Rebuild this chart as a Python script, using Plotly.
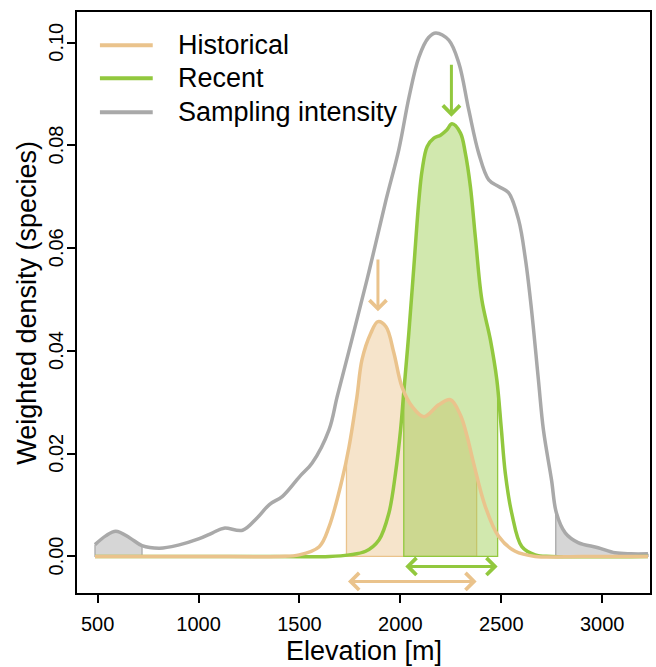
import numpy as np
import plotly.graph_objects as go

# ---------------- data ----------------
elev_samp = [487, 540, 590, 660, 720, 808, 900, 1000, 1070, 1126, 1218, 1290, 1351, 1416,
             1500, 1563, 1647, 1687, 1761, 1845, 1929, 1993, 2043, 2092, 2140, 2176, 2240,
             2290, 2339, 2388, 2438, 2487, 2536, 2586, 2620, 2650, 2684, 2709, 2749, 2773,
             2817, 2881, 2980, 3064, 3143, 3227]
dens_samp = [0.0023, 0.0040, 0.0049, 0.0036, 0.0021, 0.0016, 0.0022, 0.0034, 0.0046, 0.0055,
             0.0051, 0.0075, 0.0101, 0.0117, 0.0155, 0.0182, 0.0247, 0.0311, 0.0424, 0.0555,
             0.0694, 0.0793, 0.0894, 0.0972, 0.1010, 0.1019, 0.1005, 0.0960, 0.0869, 0.0785,
             0.0733, 0.0720, 0.0708, 0.0655, 0.0578, 0.0480, 0.0344, 0.0246, 0.0149, 0.0085,
             0.0046, 0.0027, 0.0017, 0.0007, 0.0005, 0.0005]

elev_hist = [487, 1000, 1400, 1499, 1598, 1647, 1711, 1746, 1785, 1810, 1854, 1889, 1929,
             1968, 2008, 2058, 2117, 2190, 2248, 2298, 2330, 2362, 2421, 2487, 2569, 2668,
             2900, 3227]
dens_hist = [0.0, 0.0, 0.0, 0.0003, 0.0019, 0.0058, 0.0149, 0.0214, 0.0311, 0.0383, 0.0435,
             0.0457, 0.0447, 0.0396, 0.0330, 0.0292, 0.0272, 0.0295, 0.0305, 0.0275, 0.0235,
             0.0183, 0.0097, 0.0039, 0.0010, 0.0, 0.0, 0.0]

elev_rec = [487, 1200, 1650, 1746, 1828, 1894, 1943, 1976, 2001, 2017, 2042, 2067, 2092,
            2108, 2133, 2166, 2199, 2230, 2256, 2298, 2322, 2347, 2372, 2404, 2446, 2478,
            2500, 2520, 2552, 2602, 2668, 2750, 3227]
dens_rec = [0.0, 0.0, 0.0, 0.0003, 0.0010, 0.0032, 0.0084, 0.0162, 0.0246, 0.0320, 0.0435,
            0.0564, 0.0694, 0.0752, 0.0798, 0.0814, 0.0820, 0.0830, 0.0842, 0.0824, 0.0785,
            0.0720, 0.0620, 0.0499, 0.0422, 0.0344, 0.0250, 0.0162, 0.0084, 0.0019, 0.0003,
            0.0, 0.0]

hist_range = [1733, 2378]          # shaded / arrow extent, historical
rec_range = [2017, 2482]           # shaded / arrow extent, recent
samp_low = [487, 720]              # shaded low tail of sampling
samp_high = [2770, 3227]           # shaded high tail of sampling
hist_peak = 1889
rec_peak = 2253
hist_peak_arrow = [0.0581, 0.0477]
rec_peak_arrow = [0.0960, 0.0856]
hist_bar_y = -0.00486
rec_bar_y = -0.00195

legend_labels = ["Historical", "Recent", "Sampling intensity"]
x_ticks = [500, 1000, 1500, 2000, 2500, 3000]
y_ticks = [0.00, 0.02, 0.04, 0.06, 0.08, 0.10]
y_tick_labels = ["0.00", "0.02", "0.04", "0.06", "0.08", "0.10"]

# ---------------- styles ----------------
C_HIST = "#EAC38C"
C_REC = "#92C83E"
C_SAMP = "#A9A9A9"
F_HIST = "rgba(234,195,140,0.45)"
F_REC = "rgba(146,200,62,0.42)"
F_SAMP = "#D6D6D6"
FONT = "Liberation Sans, Arial, sans-serif"


def segment(x, y, lo, hi):
    x = np.asarray(x, float)
    y = np.asarray(y, float)
    inner = (x > lo) & (x < hi)
    xs = np.concatenate([[lo], x[inner], [hi]])
    ys = np.concatenate([[np.interp(lo, x, y)], y[inner], [np.interp(hi, x, y)]])
    return xs, ys


fig = go.Figure()


def add_shade(x, y, lo, hi, fill, edge):
    xs, ys = segment(x, y, lo, hi)
    fig.add_trace(go.Scatter(x=xs, y=ys, mode="lines", fill="tozeroy", fillcolor=fill,
                             line=dict(width=0, shape="spline"), hoverinfo="skip",
                             showlegend=False))
    fig.add_trace(go.Scatter(x=[xs[0], xs[0], xs[-1], xs[-1]], y=[ys[0], 0, 0, ys[-1]],
                             mode="lines", line=dict(color=edge, width=1.3),
                             hoverinfo="skip", showlegend=False))


add_shade(elev_samp, dens_samp, *samp_low, F_SAMP, C_SAMP)
add_shade(elev_samp, dens_samp, *samp_high, F_SAMP, C_SAMP)
fig.add_trace(go.Scatter(x=elev_samp, y=dens_samp, mode="lines",
                         line=dict(color=C_SAMP, width=3.5, shape="spline"),
                         name=legend_labels[2], showlegend=False))

add_shade(elev_hist, dens_hist, *hist_range, F_HIST, C_HIST)
add_shade(elev_rec, dens_rec, *rec_range, F_REC, C_REC)

fig.add_trace(go.Scatter(x=elev_rec, y=dens_rec, mode="lines",
                         line=dict(color=C_REC, width=3.5, shape="spline"),
                         name=legend_labels[1], showlegend=False))
fig.add_trace(go.Scatter(x=elev_hist, y=dens_hist, mode="lines",
                         line=dict(color=C_HIST, width=3.5, shape="spline"),
                         name=legend_labels[0], showlegend=False))

annotations = []
# peak arrows
for xp, (ytail, yhead), col in [(hist_peak, hist_peak_arrow, C_HIST),
                                (rec_peak, rec_peak_arrow, C_REC)]:
    annotations.append(dict(x=xp, y=yhead, ax=xp, ay=ytail, xref="x", yref="y",
                            axref="x", ayref="y", showarrow=True, arrowhead=4,
                            arrowsize=1.1, arrowwidth=3, arrowcolor=col, text="",
                            standoff=0))
# range arrows (double headed)
for (lo, hi), yb, col in [(hist_range, hist_bar_y, C_HIST), (rec_range, rec_bar_y, C_REC)]:
    annotations.append(dict(x=hi, y=yb, ax=lo, ay=yb, xref="x", yref="y",
                            axref="x", ayref="y", showarrow=True, arrowhead=4,
                            startarrowhead=4, arrowside="end+start", arrowsize=1.1,
                            startarrowsize=1.1, arrowwidth=3, arrowcolor=col, text="",
                            standoff=0, startstandoff=0))

# manual legend (paper coordinates)
PL, PR, PT, PB = 77, 652, 11.7, 593.3
W, H = PR - PL, PB - PT
shapes = []
for lab, col, py in zip(legend_labels, [C_HIST, C_REC, C_SAMP], [45, 78, 112]):
    yp = (PB - py) / H
    shapes.append(dict(type="line", xref="paper", yref="paper",
                       x0=(100 - PL) / W, x1=(153 - PL) / W, y0=yp, y1=yp,
                       line=dict(color=col, width=4)))
    annotations.append(dict(x=(176 - PL) / W, y=yp, xref="paper", yref="paper",
                            text=lab, showarrow=False, xanchor="left", yanchor="middle",
                            font=dict(size=27, color="black", family=FONT)))

# rotated y tick labels (R style, las=0)
for v, lab in zip(y_ticks, y_tick_labels):
    annotations.append(dict(x=(56 - PL) / W, y=v, xref="paper", yref="y", text=lab,
                            showarrow=False, textangle=-90, xanchor="center",
                            yanchor="middle", font=dict(size=20, color="black", family=FONT)))

# axis titles
annotations.append(dict(x=0.5, y=(PB - 651) / H, xref="paper", yref="paper",
                        text="Elevation [m]", showarrow=False, xanchor="center",
                        yanchor="middle", font=dict(size=27, color="black", family=FONT)))
annotations.append(dict(x=(26 - PL) / W, y=0.5, xref="paper", yref="paper",
                        text="Weighted density (species)", showarrow=False, textangle=-90,
                        xanchor="center", yanchor="middle",
                        font=dict(size=27, color="black", family=FONT)))

fig.update_layout(
    width=656, height=667,
    margin=dict(l=PL, r=656 - PR, t=PT, b=667 - PB),
    paper_bgcolor="white", plot_bgcolor="white",
    font=dict(family=FONT, color="black", size=20),
    showlegend=False,
    shapes=shapes,
    annotations=annotations,
    xaxis=dict(range=[397.8, 3237], tickvals=x_ticks, ticks="outside", ticklen=8,
               tickwidth=1.5, tickcolor="black", showline=True, linecolor="black",
               linewidth=1.5, mirror=True, showgrid=False, zeroline=False,
               tickfont=dict(size=20), ticklabelstandoff=4),
    yaxis=dict(range=[-0.00712, 0.10597], tickvals=y_ticks, showticklabels=False,
               ticks="outside", ticklen=8, tickwidth=1.5, tickcolor="black",
               showline=True, linecolor="black", linewidth=1.5, mirror=True,
               showgrid=False, zeroline=False),
)

fig.write_html("out.html", config={"displayModeBar": False},
               post_script="document.body.style.margin='0';document.body.style.overflow='hidden';")
